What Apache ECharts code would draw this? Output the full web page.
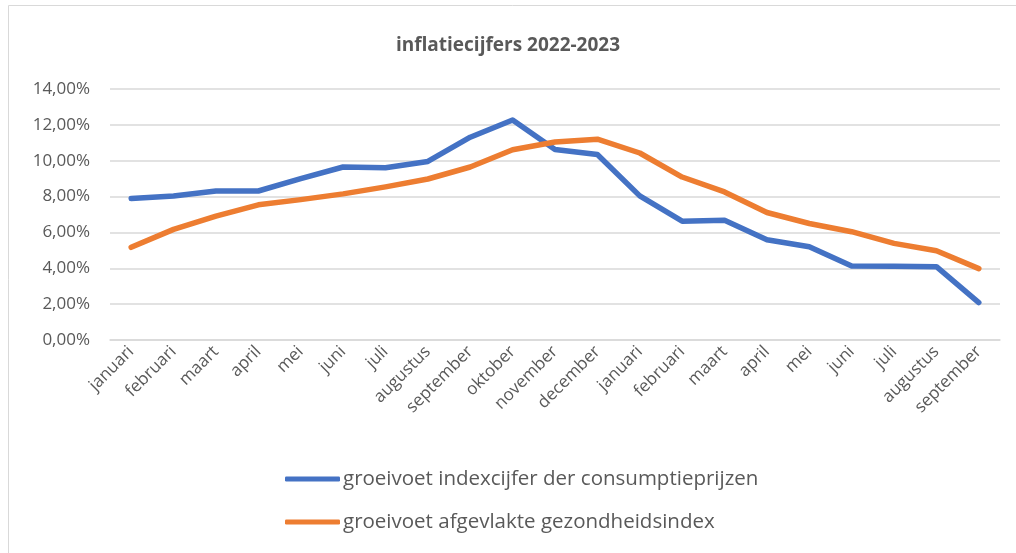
<!DOCTYPE html>
<html>
<head>
<meta charset="utf-8">
<script src="https://cdn.jsdelivr.net/npm/echarts@6/dist/echarts.min.js"></script>
<style>
  html, body { margin: 0; padding: 0; background: #fff; }
  #chart { width: 1016px; height: 553px; }
</style>
</head>
<body>
<div id="chart"></div>
<script>
var months = ['januari', 'februari', 'maart', 'april', 'mei', 'juni', 'juli', 'augustus', 'september', 'oktober', 'november', 'december',
    'januari', 'februari', 'maart', 'april', 'mei', 'juni', 'juli', 'augustus', 'september'];

// groeivoet indexcijfer der consumptieprijzen (%)
var cpi = [7.89, 8.03, 8.31, 8.31, 9.0, 9.65, 9.61, 9.96, 11.31, 12.27, 10.63, 10.35,
    8.04, 6.63, 6.68, 5.59, 5.20, 4.13, 4.12, 4.09, 2.09];

// groeivoet afgevlakte gezondheidsindex (%)
var health = [5.17, 6.17, 6.91, 7.54, 7.83, 8.15, 8.54, 8.98, 9.65, 10.61, 11.04, 11.2,
    10.43, 9.09, 8.26, 7.11, 6.5, 6.04, 5.39, 4.98, 3.98];

var seriesNames = ['groeivoet indexcijfer der consumptieprijzen', 'groeivoet afgevlakte gezondheidsindex'];

var font = '"Open Sans", sans-serif';
var chart = echarts.init(document.getElementById('chart'));

var option = {
    animation: false,
    textStyle: { fontFamily: font },
    title: {
        text: 'inflatiecijfers 2022-2023',
        left: 'center',
        top: 31,
        textStyle: { fontFamily: font, fontSize: 19, fontWeight: 'bold', color: '#595959' }
    },
    graphic: [{
        type: 'rect',
        shape: { x: 8.5, y: 5.5, width: 1020, height: 560 },
        style: { fill: null, stroke: '#d9d9d9', lineWidth: 1 },
        silent: true
    }],
    legend: {
        orient: 'vertical',
        left: 280,
        top: 461,
        icon: 'roundRect',
        itemWidth: 55,
        itemHeight: 5,
        itemGap: 17,
        textStyle: { fontFamily: font, fontSize: 20.5, lineHeight: 26, color: '#595959', padding: [0, 0, 0, -2] },
        data: seriesNames
    },
    grid: { left: 110, right: 16, top: 89, bottom: 213 },
    xAxis: {
        type: 'category',
        data: months,
        boundaryGap: true,
        axisLine: { lineStyle: { color: '#d9d9d9', width: 1.5 } },
        axisTick: { show: false },
        axisLabel: {
            interval: 0,
            rotate: 45,
            margin: 9,
            fontFamily: font,
            fontSize: 17,
            color: '#595959'
        }
    },
    yAxis: {
        type: 'value',
        min: 0,
        max: 14,
        interval: 2,
        axisLine: { show: false },
        axisTick: { show: false },
        splitLine: { lineStyle: { color: '#d9d9d9', width: 1.5 } },
        axisLabel: {
            margin: 20,
            fontFamily: font,
            fontSize: 17,
            color: '#595959',
            formatter: function (v) { return v.toFixed(2).replace('.', ',') + '%'; }
        }
    },
    series: [{
        name: seriesNames[0],
        type: 'line',
        data: cpi,
        symbol: 'none',
        lineStyle: { color: '#4472C4', width: 5.5, cap: 'round', join: 'round' },
        itemStyle: { color: '#4472C4' }
    }, {
        name: seriesNames[1],
        type: 'line',
        data: health,
        symbol: 'none',
        lineStyle: { color: '#ED7D31', width: 5.5, cap: 'round', join: 'round' },
        itemStyle: { color: '#ED7D31' }
    }]
};

chart.setOption(option);

window.addEventListener('resize', function () {
    chart.resize();
});
</script>
</body>
</html>
